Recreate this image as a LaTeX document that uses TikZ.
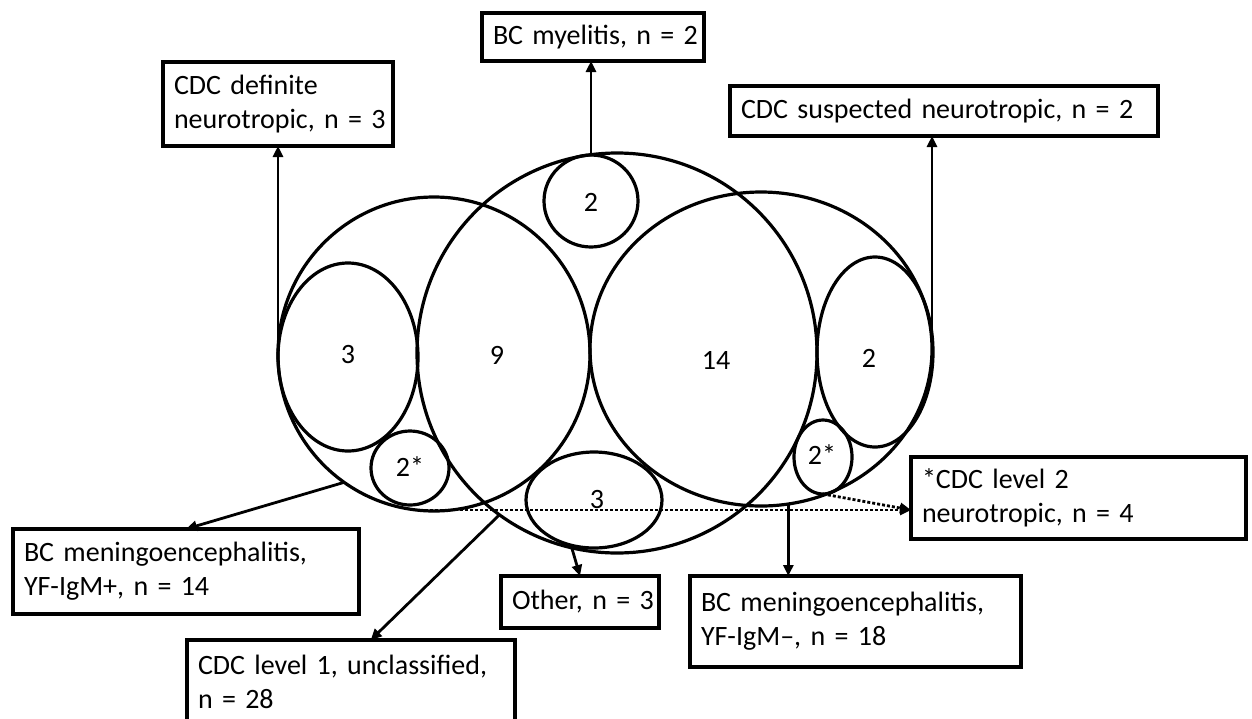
\documentclass[tikz,border=0pt]{standalone}
\usepackage{fontspec}
\setmainfont{Carlito}
\usetikzlibrary{shapes.geometric,arrows.meta,calc}
\newcommand\lbl{\fontsize{28pt}{34pt}\selectfont}
\begin{document}
\begin{tikzpicture}[x=1pt,y=-1pt,
  sh/.style={draw, ellipse, line width=3.2pt, inner sep=0pt, outer sep=0pt},
  box/.style={draw, rectangle, line width=3.2pt, inner xsep=11pt, inner ysep=0pt, outer sep=0pt, align=left, font=\lbl},
  num/.style={font=\lbl, inner sep=0pt},
  conn/.style={line width=2.8pt, -{Triangle[length=11pt,width=10pt]}},
  dconn/.style={line width=2.8pt, dash pattern=on 3pt off 2pt, -{Triangle[length=11pt,width=10pt]}}]
\useasboundingbox (0,0) rectangle (1252,718);
\clip (0,0) rectangle (1252,718);

% sets
\node[sh, minimum width=312pt, minimum height=314pt] (L) at (434,354) {};
\node[sh, minimum width=400pt, minimum height=400pt] (M) at (617,353) {};
\node[sh, minimum width=342pt, minimum height=314pt] (R) at (761,349) {};
\node[sh, minimum width=140pt, minimum height=188pt] (e3) at (348,357) {};
\node[sh, minimum width=78pt, minimum height=74pt] (s2L) at (410,468) {};
\node[sh, minimum width=94pt, minimum height=92pt] (t2) at (591,201) {};
\node[sh, minimum width=116pt, minimum height=190pt] (R2) at (875,352) {};
\node[sh, minimum width=58pt, minimum height=74pt] (s2R) at (823,457) {};
\node[sh, minimum width=136pt, minimum height=96pt] (b3) at (594,500) {};

% numbers
\node[num] (n3) at (348,355) {3};
\node[num] (n9) at (497,355) {9};
\node[num] (n14) at (716,360) {14};
\node[num] (n2r) at (869,358) {2};
\node[num] (n2t) at (591,202) {2};
\node[num] (n2sl) at (410,467) {2*};
\node[num] (n2sr) at (822,455) {2*};
\node[num] (n3b) at (597,500) {3};

% boxes
\node[box, minimum width=230pt, minimum height=84pt, text width=208pt] (def) at (278,104) {\mbox{CDC definite}\\\mbox{neurotropic, n = 3}};
\node[box, minimum width=222pt, minimum height=48pt, text width=200pt] (myel) at (593,37) {\mbox{BC myelitis, n = 2}};
\node[box, minimum width=428pt, minimum height=50pt, text width=406pt] (susp) at (944,111) {\mbox{CDC suspected neurotropic, n = 2}};
\node[box, minimum width=346pt, minimum height=85pt, text width=324pt] (ym) at (186,571.5) {\mbox{BC meningoencephalitis,}\\\mbox{YF-IgM+, n = 14}};
\node[box, minimum width=328pt, minimum height=84pt, text width=306pt] (cdc1) at (351,682) {\mbox{CDC level 1, unclassified,}\\\mbox{n = 28}};
\node[box, minimum width=158pt, minimum height=52pt, text width=136pt] (other) at (580,602) {\mbox{Other, n = 3}};
\node[box, minimum width=331pt, minimum height=91pt, text width=309pt] (ym2) at (855.5,621.5) {\mbox{BC meningoencephalitis,}\\\mbox{YF-IgM–, n = 18}};
\node[box, minimum width=335pt, minimum height=82pt, text width=313pt] (lvl2) at (1078.5,498) {\mbox{*CDC level 2}\\\mbox{neurotropic, n = 4}};

% connectors
\draw[conn] (L.west) -- (L.west |- def.south);
\draw[conn] (t2.north) -- (t2.north |- myel.south);
\draw[conn] (R.east) -- (R.east |- susp.south);
\draw[conn] (L.235) -- (ym.north);
\draw[conn] (M.234) -- ($(cdc1.north west)!0.56!(cdc1.north east)$);
\draw[conn] (b3.243) -- (other.north);
\draw[conn] (R.280) -- (R.280 |- ym2.north);
\coordinate (tip) at ($(lvl2.west)+(0,12)$);
\draw[dconn] (s2R.south) -- (tip);
\draw[dconn] (s2L.south |- tip) -- (tip);
\end{tikzpicture}
\end{document}
